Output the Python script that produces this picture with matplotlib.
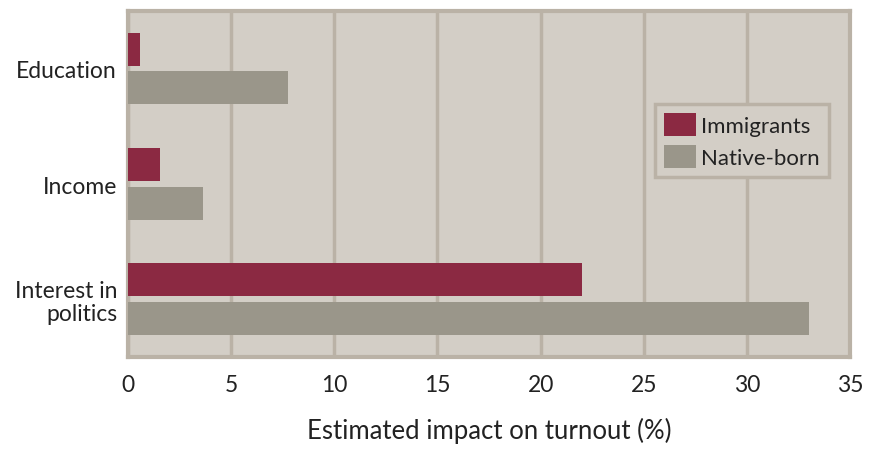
import numpy as np
import matplotlib
matplotlib.use('Agg')
import matplotlib.pyplot as plt

categories = ['Education', 'Income', 'Interest in\npolitics']
immigrants = [0.55, 1.55, 22.0]
native_born = [7.75, 3.65, 33.0]
xticks = [0, 5, 10, 15, 20, 25, 30, 35]

plt.rcParams['font.family'] = ['Lato', 'DejaVu Sans']
fig = plt.figure(figsize=(8.78, 4.52), dpi=100)
ax = fig.add_axes([0.146, 0.208, 0.822, 0.765])

bg = '#d3cec6'
edge = '#bab2a6'
ax.set_facecolor(bg)

y = np.arange(len(categories))
h = 0.285
ax.barh(y - 0.17, immigrants, height=h, color='#8b2942', label='Immigrants', zorder=3)
ax.barh(y + 0.165, native_born, height=h, color='#9a968a', label='Native-born', zorder=3)

ax.set_xlim(0, 35)
ax.set_ylim(2.5, -0.5)
ax.set_xticks(xticks)
ax.set_xticklabels([str(t) for t in xticks])
ax.set_yticks(y)
ax.set_yticklabels(categories, linespacing=1.1)
ax.grid(axis='x', color=edge, linewidth=2.5, zorder=1)
ax.tick_params(length=0, labelsize=16.5, colors='#222222', pad=8)
ax.tick_params(axis='x', pad=12)
for s in ax.spines.values():
    s.set_color(edge)
    s.set_linewidth(3)

ax.set_xlabel('Estimated impact on turnout (%)', fontsize=18.5, color='#222222', labelpad=16)

leg = ax.legend(loc='upper right', bbox_to_anchor=(0.971, 0.731), fontsize=16,
                frameon=True, fancybox=False, handlelength=1.45, handleheight=1.2,
                handletextpad=0.25, borderpad=0.4, labelspacing=0.4, borderaxespad=0)
leg.get_frame().set_facecolor(bg)
leg.get_frame().set_edgecolor(edge)
leg.get_frame().set_linewidth(2.5)
leg.get_frame().set_alpha(1)
for t in leg.get_texts():
    t.set_color('#222222')

fig.savefig('out.png', dpi=100, facecolor='white')
